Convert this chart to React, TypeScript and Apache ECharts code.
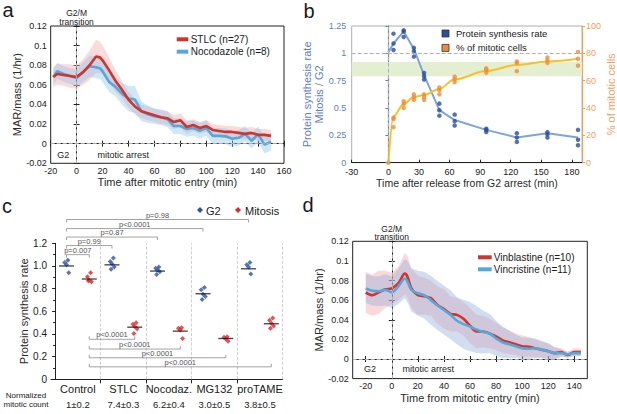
import React, { useEffect, useRef } from "react";
import * as echarts from "echarts";

const FONT = '"Liberation Sans", Arial, Helvetica, sans-serif';

// ---------- Panel a ----------
const aTimes = [-18, -15, -10, -5, 0, 5, 10, 15, 18, 20, 25, 30, 35, 40, 45, 50, 55, 60, 65, 70, 75, 80, 85, 90, 95, 100, 105, 110, 115, 120, 125, 130, 135, 140, 145, 150];
const aStlc = [0.068, 0.071, 0.07, 0.069, 0.068, 0.073, 0.08, 0.089, 0.088, 0.085, 0.075, 0.064, 0.055, 0.045, 0.038, 0.033, 0.031, 0.029, 0.027, 0.026, 0.022, 0.024, 0.017, 0.019, 0.016, 0.018, 0.014, 0.013, 0.012, 0.012, 0.011, 0.01, 0.011, 0.009, 0.009, 0.008];
const aStlcSd = [0.01, 0.011, 0.011, 0.012, 0.012, 0.013, 0.015, 0.017, 0.016, 0.015, 0.013, 0.011, 0.009, 0.008, 0.008, 0.007, 0.007, 0.007, 0.007, 0.007, 0.007, 0.007, 0.007, 0.006, 0.006, 0.006, 0.006, 0.006, 0.006, 0.006, 0.006, 0.006, 0.006, 0.006, 0.006, 0.006];
const aNoco = [0.068, 0.074, 0.071, 0.069, 0.067, 0.073, 0.079, 0.078, 0.077, 0.074, 0.063, 0.058, 0.051, 0.046, 0.045, 0.033, 0.03, 0.028, 0.027, 0.025, 0.018, 0.018, 0.015, 0.016, 0.013, 0.016, 0.008, 0.008, 0.0075, 0.005, 0.006, 0.01, 0.003, 0.0095, -0.001, 0.002];
const aNocoSd = [0.008, 0.008, 0.008, 0.008, 0.009, 0.01, 0.011, 0.011, 0.011, 0.011, 0.01, 0.01, 0.011, 0.013, 0.014, 0.01, 0.009, 0.008, 0.008, 0.008, 0.008, 0.008, 0.008, 0.008, 0.008, 0.008, 0.008, 0.008, 0.008, 0.008, 0.008, 0.008, 0.008, 0.008, 0.009, 0.009];
const aSeriesNames = ["STLC (n=27)", "Nocodazole (n=8)"];

// ---------- Panel b ----------
const bTimes = [0, 5, 15, 25, 35, 50, 65, 96, 126, 156, 186];
const bProtMean = [1.01, 1.09, 1.2, 1.04, 0.8, 0.48, 0.39, 0.3, 0.23, 0.27, 0.23];
const bProtDots = [[], [1.18, 1.09, 1.03], [1.21, 1.2, 1.15], [1.05, 1.02, 0.97], [0.82, 0.79, 0.76], [0.54, 0.48, 0.43], [0.44, 0.38, 0.34], [0.31, 0.3, 0.28], [0.27, 0.23, 0.19], [0.28, 0.26, 0.23], [0.3, 0.21, 0.16]];
const bMitMean = [0, 34, 43, 48, 49.5, 54, 61, 67, 71.5, 74, 76];
const bMitDots = [[0], [33, 32, 26], [45, 43, 40], [50, 48, 46], [50, 48, 46], [55, 53, 50], [63, 61, 59], [69, 68, 66], [74, 73, 67], [77, 75, 73], [81, 76, 71]];
const bGreenBand = [0.79, 0.92];
const bXTicks = [-36, 0, 30, 60, 90, 120, 150, 180];
const bLegend = ["Protein synthesis rate", "% of mitotic cells"];

// ---------- Panel c ----------
const cCats = ["Control", "STLC", "Nocodaz.", "MG132", "proTAME"];
const cCounts = ["1±0.2", "7.4±0.3", "6.2±0.4", "3.0±0.5", "3.8±0.5"];
const cG2 = [[1.05, 1.03, 1.01, 0.94], [1.07, 1.04, 1.02, 0.99, 0.97], [0.99, 0.98, 0.965, 0.95, 0.925], [0.81, 0.79, 0.75, 0.73, 0.705], [1.03, 1.01, 0.99, 0.93]];
const cMito = [[0.94, 0.905, 0.875, 0.86, 0.87], [0.5, 0.485, 0.465, 0.445, 0.405], [0.455, 0.45, 0.435, 0.36], [0.375, 0.37, 0.355, 0.335], [0.54, 0.52, 0.495, 0.47, 0.45]];
const cG2Med = [1.0, 1.01, 0.955, 0.755, 0.975];
const cMitoMed = [0.885, 0.46, 0.425, 0.36, 0.49];
const cJitter = [0.03, -0.04, 0.0, 0.05, -0.02];
const cTopP = ["p=0.007", "p=0.99", "p=0.87", "p<0.0001", "p=0.98"];
const cTopTo: [number, string][] = [[0, "M"], [1, "G"], [2, "G"], [3, "G"], [4, "G"]];
const cBotP = ["p<0.0001", "p<0.0001", "p<0.0001", "p<0.0001"];
const cBotTo = [1, 2, 3, 4];

// ---------- Panel d ----------
const dTimes = [-20, -15, -10, -5, 0, 5, 10, 12, 15, 20, 25, 30, 35, 40, 45, 50, 55, 60, 65, 70, 75, 80, 85, 90, 95, 100, 105, 110, 115, 120, 125, 130, 135, 140, 145];
const dVinb = [0.068, 0.065, 0.068, 0.071, 0.072, 0.077, 0.087, 0.084, 0.072, 0.065, 0.064, 0.062, 0.055, 0.051, 0.046, 0.045, 0.041, 0.034, 0.028, 0.028, 0.026, 0.023, 0.019, 0.017, 0.015, 0.013, 0.0125, 0.011, 0.0095, 0.008, 0.006, 0.007, 0.004, 0.007, 0.007];
const dVinbSd = [0.021, 0.021, 0.022, 0.019, 0.016, 0.017, 0.021, 0.021, 0.02, 0.02, 0.019, 0.018, 0.019, 0.02, 0.018, 0.017, 0.017, 0.018, 0.017, 0.016, 0.015, 0.014, 0.013, 0.012, 0.011, 0.011, 0.01, 0.009, 0.008, 0.008, 0.006, 0.004, 0.003, 0.004, 0.004];
const dVinc = [0.072, 0.0695, 0.069, 0.0705, 0.068, 0.074, 0.082, 0.079, 0.0705, 0.067, 0.065, 0.06, 0.0545, 0.05, 0.045, 0.039, 0.0355, 0.033, 0.03, 0.0275, 0.026, 0.021, 0.017, 0.015, 0.013, 0.011, 0.0105, 0.011, 0.0095, 0.008, 0.006, 0.006, 0.0045, 0.006, 0.006];
const dVincSd = [0.015, 0.015, 0.015, 0.016, 0.016, 0.018, 0.02, 0.021, 0.022, 0.023, 0.024, 0.025, 0.025, 0.025, 0.025, 0.024, 0.025, 0.025, 0.024, 0.022, 0.02, 0.018, 0.016, 0.014, 0.012, 0.011, 0.011, 0.01, 0.009, 0.008, 0.006, 0.004, 0.003, 0.003, 0.003];
const dXTicks = [-20, 0, 20, 40, 60, 80, 100, 120, 140];
const dSeriesNames = ["Vinblastine (n=10)", "Vincristine (n=11)"];

// ---------- colours ----------
const RED = "#d0342c";
const BLUE = "#56a8dc";
const B_BLUE_LINE = "#7ea5da";
const B_BLUE_DOT = "#2b4d9b";
const B_ORANGE_LINE = "#f7c12a";
const B_ORANGE_DOT = "#ef8c3a";
const B_AXIS_BLUE = "#5f80c2";
const B_AXIS_ORANGE = "#f0a062";
const C_BLUE = "#2f52a8";
const C_RED = "#e2262b";

function bandSeries(xi: number, yi: number, xs: number[], mean: number[], sd: number[], color: string) {
  return {
    type: "custom",
    xAxisIndex: xi,
    yAxisIndex: yi,
    silent: true,
    z: 1,
    data: [[xs[0], mean[0]]],
    renderItem: (_p: any, api: any) => {
      const pts: number[][] = [];
      for (let i = 0; i < xs.length; i++) pts.push(api.coord([xs[i], mean[i] + sd[i]]));
      for (let i = xs.length - 1; i >= 0; i--) pts.push(api.coord([xs[i], mean[i] - sd[i]]));
      return { type: "polygon", shape: { points: pts }, style: { fill: color } };
    },
  };
}

function txt(x: number, y: number, text: string, size: number, o: any = {}) {
  return {
    type: "text",
    x,
    y,
    silent: true,
    z: 10,
    style: {
      text,
      fontSize: size,
      fontFamily: FONT,
      fill: o.fill || "#1a1a1a",
      align: o.align || "center",
      verticalAlign: o.va || "middle",
    },
  };
}

const tickStyle = { fontSize: 9, fontFamily: FONT, color: "#1a1a1a" };
const nameStyle = { fontSize: 11, fontFamily: FONT, color: "#2a2a2a", fontWeight: "normal" };
const blackLine = { show: true, lineStyle: { color: "#222", width: 1 } };

function dashedMarks(data: any[]) {
  return {
    silent: true,
    symbol: "none",
    label: { show: false },
    lineStyle: { type: "dashed", color: "#b0b0b0", width: 1 },
    data,
  };
}

function buildOption(): any {
  const pairs = (xs: number[], ys: number[]) => xs.map((x, i) => [x, ys[i]]);
  const dotPairs = (xs: number[], dots: number[][]) => {
    const out: number[][] = [];
    dots.forEach((arr, i) => arr.forEach((v) => out.push([xs[i], v])));
    return out;
  };
  const cDots = (vals: number[][], off: number) => {
    const out: number[][] = [];
    vals.forEach((arr, i) => arr.forEach((v, j) => out.push([i + off + cJitter[j], v])));
    return out;
  };

  const graphic: any[] = [
    txt(8, 10, "a", 20),
    txt(309, 11, "b", 20),
    txt(7, 206, "c", 20),
    txt(308, 205, "d", 20),
    // panel a annotations
    txt(76.6, 12.6, "G2/M", 8.5),
    txt(76.6, 21.6, "transition", 8.5),
    txt(63.3, 155, "G2", 9),
    txt(123.3, 155, "mitotic arrest", 9),
    { type: "line", shape: { x1: 176.7, y1: 39.3, x2: 188.3, y2: 39.3 }, style: { stroke: RED, lineWidth: 4 } },
    { type: "line", shape: { x1: 176.7, y1: 51.7, x2: 188.3, y2: 51.7 }, style: { stroke: BLUE, lineWidth: 4 } },
    txt(190.7, 39.3, aSeriesNames[0], 10, { align: "left" }),
    txt(190.7, 51.7, aSeriesNames[1], 10, { align: "left" }),
    // panel b legend
    { type: "rect", shape: { x: 442, y: 30, width: 7, height: 7 }, style: { fill: B_BLUE_DOT, stroke: "#333", lineWidth: 0.8 } },
    { type: "rect", shape: { x: 442, y: 44.4, width: 7, height: 7 }, style: { fill: B_ORANGE_DOT, stroke: "#333", lineWidth: 0.8 } },
    txt(456, 33.5, bLegend[0], 9.5, { align: "left" }),
    txt(456, 47.9, bLegend[1], 9.5, { align: "left" }),
    // panel c legend
    { type: "polygon", shape: { points: [[200, 207], [203, 210], [200, 213], [197, 210]] }, style: { fill: C_BLUE } },
    txt(206, 210.5, "G2", 11, { align: "left" }),
    { type: "polygon", shape: { points: [[238, 207], [241, 210], [238, 213], [235, 210]] }, style: { fill: C_RED } },
    txt(245, 210.5, "Mitosis", 11, { align: "left" }),
    txt(26, 395.8, "Normalized", 8),
    txt(26, 404.8, "mitotic count", 8),
    // panel d annotations
    txt(391.7, 228.6, "G2/M", 8.5),
    txt(391.7, 237.4, "transition", 8.5),
    txt(370, 369.3, "G2", 9),
    txt(428.3, 369.3, "mitotic arrest", 9),
    { type: "line", shape: { x1: 478, y1: 257.3, x2: 491.7, y2: 257.3 }, style: { stroke: RED, lineWidth: 4 } },
    { type: "line", shape: { x1: 478, y1: 269.3, x2: 491.7, y2: 269.3 }, style: { stroke: BLUE, lineWidth: 4 } },
    txt(493.8, 257.3, dSeriesNames[0], 10, { align: "left" }),
    txt(493.8, 269.3, dSeriesNames[1], 10, { align: "left" }),
  ];

  const grid = [
    { left: 50.7, top: 26, width: 233.3, height: 137.3, show: true, borderColor: "#222", borderWidth: 1, backgroundColor: "transparent" },
    { left: 351.7, top: 26, width: 235.3, height: 136.7, show: true, borderColor: "#9a9a9a", borderWidth: 0.8, backgroundColor: "transparent" },
    { left: 51, top: 243.3, width: 231.7, height: 136 },
    { left: 352.7, top: 241.3, width: 234.6, height: 137.3, show: true, borderColor: "#222", borderWidth: 1, backgroundColor: "transparent" },
  ];

  const xAxis = [
    {
      gridIndex: 0, type: "value", min: -20, max: 160, interval: 20,
      axisLine: blackLine, axisTick: { inside: true, length: 3, lineStyle: { color: "#222" } },
      axisLabel: { ...tickStyle, margin: 3 }, splitLine: { show: false },
      name: "Time after mitotic entry (min)", nameLocation: "middle", nameGap: 13, nameTextStyle: nameStyle,
    },
    {
      gridIndex: 0, type: "value", position: "top", min: -20, max: 160, interval: 20,
      axisLine: blackLine, axisTick: { inside: true, length: 3, lineStyle: { color: "#222" } },
      axisLabel: { show: false }, splitLine: { show: false },
    },
    {
      gridIndex: 1, type: "value", min: -36, max: 190,
      axisLine: blackLine,
      axisTick: { inside: true, length: 3, customValues: bXTicks, lineStyle: { color: "#222" } },
      axisLabel: { ...tickStyle, margin: 4.5, customValues: bXTicks, formatter: (v: number) => (v < -30 ? "-30" : String(v)) },
      splitLine: { show: false },
      name: "Time after release from G2 arrest (min)", nameLocation: "middle", nameGap: 14.5, nameTextStyle: { ...nameStyle, fontSize: 10.5 },
    },
    {
      gridIndex: 2, type: "value", min: -0.09, max: 5,
      axisLine: blackLine,
      axisTick: { inside: false, length: 4, customValues: [1, 2, 3, 4], lineStyle: { color: "#222" } },
      axisLabel: {
        customValues: [0.5, 1.5, 2.5, 3.5, 4.5],
        margin: 3,
        formatter: (v: number) => {
          const i = Math.round(v - 0.5);
          return "{n|" + cCats[i] + "}\n{v|" + cCounts[i] + "}";
        },
        rich: {
          n: { fontSize: 11, fontFamily: FONT, color: "#1a1a1a", lineHeight: 14 },
          v: { fontSize: 9.5, fontFamily: FONT, color: "#1a1a1a", lineHeight: 16 },
        },
      },
      splitLine: { show: false },
    },
    {
      gridIndex: 3, type: "value", min: -30, max: 150,
      axisLine: blackLine,
      axisTick: { inside: true, length: 3, customValues: dXTicks, lineStyle: { color: "#222" } },
      axisLabel: { ...tickStyle, margin: 3, customValues: dXTicks },
      splitLine: { show: false },
      name: "Time from mitotic entry (min)", nameLocation: "middle", nameGap: 13.5, nameTextStyle: nameStyle,
    },
    {
      gridIndex: 3, type: "value", position: "top", min: -30, max: 150,
      axisLine: blackLine,
      axisTick: { inside: true, length: 3, customValues: dXTicks, lineStyle: { color: "#222" } },
      axisLabel: { show: false }, splitLine: { show: false },
    },
  ];

  const yAxis = [
    {
      gridIndex: 0, type: "value", min: -0.02, max: 0.12, interval: 0.02,
      axisLine: blackLine, axisTick: { inside: true, length: 3, lineStyle: { color: "#222" } },
      axisLabel: { ...tickStyle, margin: 4 }, splitLine: { show: false },
      name: "MAR/mass (1/hr)", nameLocation: "middle", nameGap: 23, nameTextStyle: nameStyle,
    },
    {
      gridIndex: 0, type: "value", position: "right", min: -0.02, max: 0.12, interval: 0.02,
      axisLine: blackLine, axisTick: { inside: true, length: 3, lineStyle: { color: "#222" } },
      axisLabel: { show: false }, splitLine: { show: false },
    },
    {
      gridIndex: 1, type: "value", min: 0, max: 1.25, interval: 0.25,
      axisLine: { show: true, lineStyle: { color: B_AXIS_BLUE, width: 1.2 } },
      axisTick: { inside: false, length: 3, lineStyle: { color: B_AXIS_BLUE } },
      axisLabel: { ...tickStyle, color: B_AXIS_BLUE, margin: 5.5 },
      splitLine: { show: false },
      name: "Protein synthesis rate\nMitosis / G2", nameLocation: "middle", nameGap: 23,
      nameTextStyle: { ...nameStyle, color: B_AXIS_BLUE, lineHeight: 12 },
    },
    {
      gridIndex: 1, type: "value", position: "right", min: 0, max: 100, interval: 20,
      axisLine: { show: true, lineStyle: { color: B_AXIS_ORANGE, width: 1.2 } },
      axisTick: { inside: false, length: 3, lineStyle: { color: B_AXIS_ORANGE } },
      axisLabel: { ...tickStyle, color: B_AXIS_ORANGE, margin: 4 }, splitLine: { show: false },
      name: "% of mitotic cells", nameLocation: "middle", nameGap: 12,
      nameTextStyle: { ...nameStyle, color: B_AXIS_ORANGE },
    },
    {
      gridIndex: 2, type: "value", min: 0, max: 1.2, interval: 0.2,
      axisLine: blackLine, axisTick: { inside: false, length: 3, lineStyle: { color: "#222" } },
      minorTick: { show: true, splitNumber: 2, length: 2, lineStyle: { color: "#222" } },
      axisLabel: { ...tickStyle, fontSize: 10, margin: 4, formatter: (v: number) => (v === 0 ? "0" : v.toFixed(1)) },
      splitLine: { show: false },
      name: "Protein synthesis rate", nameLocation: "middle", nameGap: 22, nameTextStyle: nameStyle,
    },
    {
      gridIndex: 3, type: "value", min: -0.02, max: 0.12, interval: 0.02,
      axisLine: blackLine, axisTick: { inside: true, length: 3, lineStyle: { color: "#222" } },
      axisLabel: { ...tickStyle, margin: 4 }, splitLine: { show: false },
      name: "MAR/mass (1/hr)", nameLocation: "middle", nameGap: 24, nameTextStyle: nameStyle,
    },
    {
      gridIndex: 3, type: "value", position: "right", min: -0.02, max: 0.12, interval: 0.02,
      axisLine: blackLine, axisTick: { inside: true, length: 3, lineStyle: { color: "#222" } },
      axisLabel: { show: false }, splitLine: { show: false },
    },
  ];

  const bracketSeries = {
    type: "custom",
    xAxisIndex: 3,
    yAxisIndex: 4,
    silent: true,
    z: 5,
    clip: false,
    data: [[0, 0]],
    renderItem: (_p: any, api: any) => {
      const topLevels = [1.1, 1.18, 1.255, 1.33, 1.41];
      const botLevels = [0.353, 0.267, 0.19, 0.11];
      const children: any[] = [];
      const add = (x1: number, x2: number, lvl: number, label: string, dir: number) => {
        const p1 = api.coord([x1, lvl]);
        const p2 = api.coord([x2, lvl]);
        const t = dir * 3;
        children.push({
          type: "polyline",
          shape: { points: [[p1[0], p1[1] + t], [p1[0], p1[1]], [p2[0], p2[1]], [p2[0], p2[1] + t]] },
          style: { stroke: "#8c8c8c", lineWidth: 0.8, fill: "none" },
        });
        children.push({
          type: "text",
          x: (p1[0] + p2[0]) / 2,
          y: p1[1] - 0.5,
          style: { text: label, fontSize: 7.5, fontFamily: FONT, fill: "#555", align: "center", verticalAlign: "bottom" },
        });
      };
      cTopTo.forEach(([cat, cond], i) => add(0.25, cat + (cond === "G" ? 0.25 : 0.75), topLevels[i], cTopP[i], 1));
      cBotTo.forEach((cat, i) => add(0.75, cat + 0.75, botLevels[i], cBotP[i], -1));
      return { type: "group", children };
    },
  };

  const series: any[] = [
    // ----- a -----
    bandSeries(0, 0, aTimes, aStlc, aStlcSd, "rgba(240,160,160,0.38)"),
    bandSeries(0, 0, aTimes, aNoco, aNocoSd, "rgba(140,195,235,0.40)"),
    {
      type: "line", xAxisIndex: 0, yAxisIndex: 0, data: pairs(aTimes, aNoco), showSymbol: false,
      lineStyle: { color: BLUE, width: 2.6 }, z: 3,
      markLine: dashedMarks([{ xAxis: 0 }, { yAxis: 0 }]),
    },
    {
      type: "line", xAxisIndex: 0, yAxisIndex: 0, data: pairs(aTimes, aStlc), showSymbol: false,
      lineStyle: { color: RED, width: 2.6 }, z: 4,
    },
    // ----- b -----
    {
      type: "line", xAxisIndex: 2, yAxisIndex: 2, data: pairs(bTimes, bProtMean), showSymbol: false,
      lineStyle: { color: B_BLUE_LINE, width: 2 }, z: 3,
      markLine: dashedMarks([{ xAxis: 0 }, { yAxis: 1 }]),
      markArea: { silent: true, itemStyle: { color: "#e4efd2" }, data: [[{ yAxis: bGreenBand[0] }, { yAxis: bGreenBand[1] }]] },
    },
    {
      type: "scatter", xAxisIndex: 2, yAxisIndex: 2, data: dotPairs(bTimes, bProtDots),
      symbolSize: 4.5, itemStyle: { color: B_BLUE_DOT }, z: 4,
    },
    {
      type: "line", xAxisIndex: 2, yAxisIndex: 3, data: pairs(bTimes, bMitMean), showSymbol: false,
      smooth: 0.35, smoothMonotone: "x",
      lineStyle: { color: B_ORANGE_LINE, width: 2 }, z: 3,
    },
    {
      type: "scatter", xAxisIndex: 2, yAxisIndex: 3, data: dotPairs(bTimes, bMitDots),
      symbolSize: 4.5, itemStyle: { color: B_ORANGE_DOT }, z: 4,
    },
    // ----- c -----
    {
      type: "scatter", xAxisIndex: 3, yAxisIndex: 4, data: cDots(cG2, 0.25), symbol: "diamond",
      symbolSize: 5, itemStyle: { color: C_BLUE }, z: 4,
      markLine: {
        silent: true, symbol: "none", label: { show: false },
        lineStyle: { type: "dashed", color: "#c4c4c4", width: 0.8 },
        data: [{ xAxis: 1 }, { xAxis: 2 }, { xAxis: 3 }, { xAxis: 4 }, { xAxis: 5 }],
      },
    },
    {
      type: "scatter", xAxisIndex: 3, yAxisIndex: 4, data: cDots(cMito, 0.75), symbol: "diamond",
      symbolSize: 5, itemStyle: { color: C_RED }, z: 4,
    },
    {
      type: "scatter", xAxisIndex: 3, yAxisIndex: 4, symbol: "rect", symbolSize: [15, 1.3],
      data: [...cG2Med.map((v, i) => [i + 0.25, v]), ...cMitoMed.map((v, i) => [i + 0.75, v])],
      itemStyle: { color: "#111" }, z: 5,
    },
    bracketSeries,
    // ----- d -----
    bandSeries(4, 5, dTimes, dVinb, dVinbSd, "rgba(242,160,165,0.40)"),
    bandSeries(4, 5, dTimes, dVinc, dVincSd, "rgba(150,175,220,0.42)"),
    {
      type: "line", xAxisIndex: 4, yAxisIndex: 5, data: pairs(dTimes, dVinb), showSymbol: false, smooth: 0.3,
      lineStyle: { color: RED, width: 2.6 }, z: 3,
      markLine: dashedMarks([{ xAxis: 0 }, { yAxis: 0 }]),
    },
    {
      type: "line", xAxisIndex: 4, yAxisIndex: 5, data: pairs(dTimes, dVinc), showSymbol: false, smooth: 0.3,
      lineStyle: { color: BLUE, width: 2.6 }, z: 4,
    },
  ];

  return { animation: false, backgroundColor: "#fff", textStyle: { fontFamily: FONT }, grid, xAxis, yAxis, series, graphic };
}

export default function App() {
  const ref = useRef<HTMLDivElement>(null);
  useEffect(() => {
    document.body.style.margin = "0";
    const chart = echarts.init(ref.current as HTMLDivElement, null, { renderer: "svg" });
    chart.setOption(buildOption());
    return () => chart.dispose();
  }, []);
  return <div ref={ref} style={{ width: 617, height: 414 }} />;
}
